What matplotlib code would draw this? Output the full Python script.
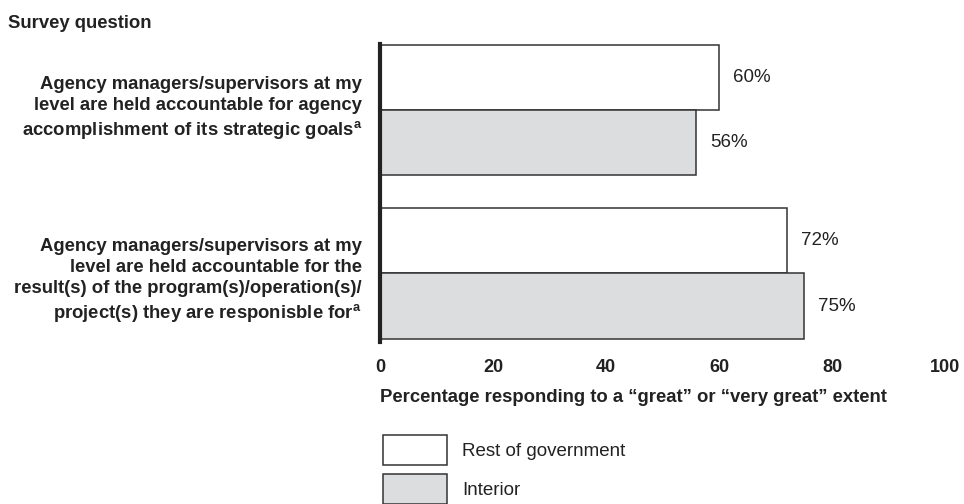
import matplotlib
matplotlib.use("Agg")
import matplotlib.pyplot as plt
import numpy as np

plt.rcParams['font.family'] = ['Liberation Sans', 'DejaVu Sans']
plt.rcParams['mathtext.fontset'] = 'custom'
plt.rcParams['mathtext.rm'] = 'Liberation Sans'
plt.rcParams['mathtext.bf'] = 'Liberation Sans:bold'

questions = [
    "Agency managers/supervisors at my\nlevel are held accountable for agency\naccomplishment of its strategic goals$^{\\mathbf{a}}$",
    "Agency managers/supervisors at my\nlevel are held accountable for the\nresult(s) of the program(s)/operation(s)/\nproject(s) they are responisble for$^{\\mathbf{a}}$",
]
series_names = ["Rest of government", "Interior"]
rest_of_gov = [60, 72]
interior = [56, 75]
xticks = [0, 20, 40, 60, 80, 100]

W, H = 964, 504
fig = plt.figure(figsize=(W / 100, H / 100), dpi=100)
ax = fig.add_axes([380 / W, 1 - 342 / H, (945 - 380) / W, (342 - 44) / H])

y = np.arange(len(questions))
h = 0.4
edge = '#333333'
b1 = ax.barh(y - h / 2, rest_of_gov, height=h, color='white', edgecolor=edge, linewidth=1.1,
             label=series_names[0])
b2 = ax.barh(y + h / 2, interior, height=h, color='#dcdddf', edgecolor=edge, linewidth=1.1,
             label=series_names[1])

for bars, vals in ((b1, rest_of_gov), (b2, interior)):
    for bar, v in zip(bars, vals):
        ax.annotate(f"{v}%", (v, bar.get_y() + bar.get_height() / 2),
                    xytext=(10, 0), textcoords='offset points', va='center', ha='left',
                    fontsize=13.5, color='#222222')

ax.set_xlim(0, 100)
ax.set_ylim(1.42, -0.405)
ax.set_xticks(xticks)
ax.set_xticklabels([str(t) for t in xticks], fontweight='bold', fontsize=13, color='#222222')
ax.tick_params(axis='x', length=0, pad=12)
ax.set_yticks([])

# question labels to the left of the axis
label_shift = [1, -5.5]  # points, vertical nudge
for yi, q, dy in zip(y, questions, label_shift):
    ax.annotate(q, (0, yi), xycoords=('axes fraction', 'data'),
                xytext=(-13, dy), textcoords='offset points',
                ha='right', va='center', multialignment='right',
                fontweight='bold', fontsize=13.3, color='#222222', linespacing=1.3)

for s in ('top', 'right', 'bottom'):
    ax.spines[s].set_visible(False)
ax.spines['left'].set_linewidth(3)
ax.spines['left'].set_color('#222222')

fig.text(380 / W, 1 - 397 / H, "Percentage responding to a \u201cgreat\u201d or \u201cvery great\u201d extent",
         fontweight='bold', fontsize=13.3, color='#222222', ha='left', va='center')
fig.text(8 / W, 1 - 23 / H, "Survey question", fontweight='bold', fontsize=13.3,
         color='#222222', ha='left', va='center')

fig.legend(handles=[b1, b2], labels=series_names, loc='upper left',
           bbox_to_anchor=(383 / W, 1 - 435 / H), frameon=False, fontsize=13.5,
           handlelength=3.4, handleheight=2.05, labelspacing=0.5, handletextpad=0.8,
           borderpad=0, borderaxespad=0, labelcolor='#222222')

fig.savefig("out.png", dpi=100)
